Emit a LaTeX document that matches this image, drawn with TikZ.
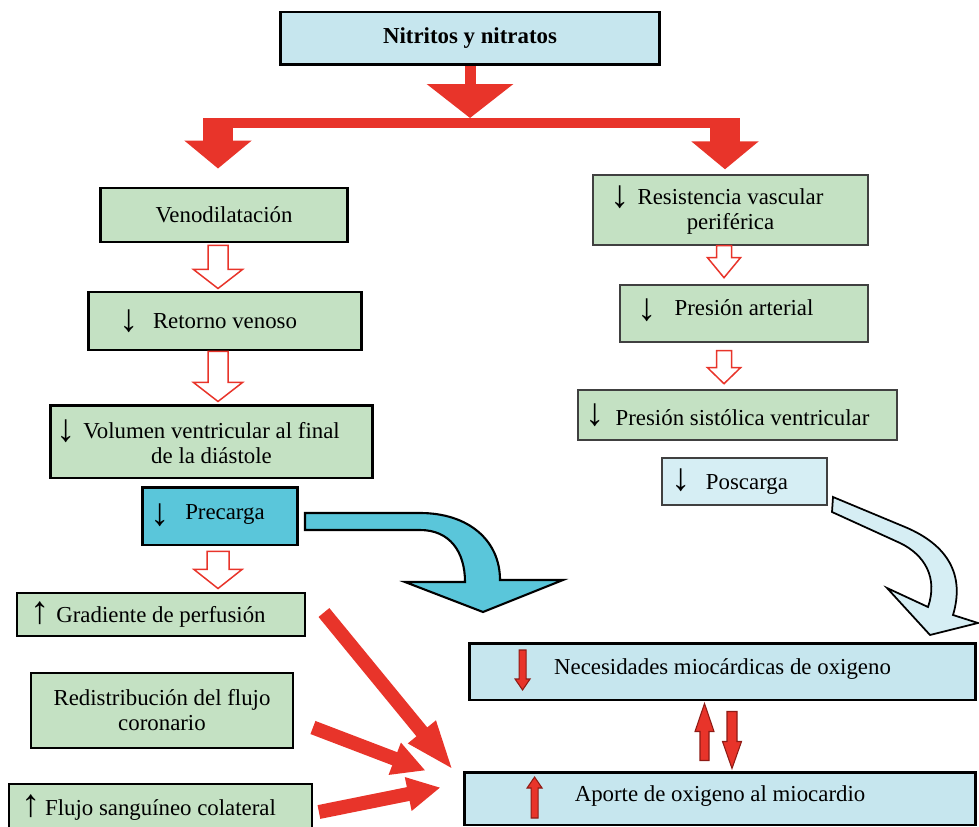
\documentclass[tikz,border=0pt]{standalone}
\usepackage{fontspec}
\setmainfont{Liberation Serif}
\usetikzlibrary{arrows.meta,calc}

\definecolor{boxblue}{HTML}{C6E6EE}
\definecolor{boxgreen}{HTML}{C4E1C3}
\definecolor{precblue}{HTML}{5AC6DA}
\definecolor{posblue}{HTML}{D6EEF4}
\definecolor{arrred}{HTML}{E8342A}
\definecolor{arrdark}{HTML}{8E1B15}

% arrow sign in front of a text: #1 distance to text, #2 raise
\newcommand\signdown[2]{\llap{\raisebox{#2}{\makebox[0pt]{\fontsize{22}{22}\selectfont ↓}}\hspace{#1}}}
\newcommand\signup[2]{\llap{\raisebox{#2}{\makebox[0pt]{\fontsize{22}{22}\selectfont ↑}}\hspace{#1}}}

\begin{document}
\begin{tikzpicture}[x=0.02cm,y=-0.02cm,
		every node/.style={font=\fontsize{13}{14.2}\selectfont},
		box/.style={rectangle,draw,inner sep=0pt,align=center},
		thickbox/.style={box,line width=1.7pt},
		midbox/.style={box,line width=1.1pt},
		thinbox/.style={box,line width=0.8pt,draw=black!75},
		palegreen/.style={fill=boxgreen},
		paleblue/.style={fill=boxblue},
		hollow/.style={draw=arrred,fill=white,line width=0.85pt},
		solidred/.style={draw=arrdark,fill=arrred,line width=0.6pt},
		bigred/.style={draw=arrred,line width=0.22cm,-{Triangle[width=1.7cm,length=0.68cm]}},
		branch/.style={draw=arrred,line width=0.6cm,-{Triangle[width=1.32cm,length=0.56cm]}},
		feed/.style={draw=arrred,line width=0.28cm,-{Triangle[width=0.64cm,length=#1]}},
		pics/blockarr/.style n args={4}{code={
			\path[pic actions] (-#1,0) -- (#1,0) -- (#1,#3) -- (#2,#3) -- (0,{#3+#4}) -- (-#2,#3) -- (-#1,#3) -- cycle;
		}}]
		\useasboundingbox (0,0) rectangle (979,827);
		\clip (0,0) rectangle (979,827);
		
		% top
		\node[thickbox,paleblue,minimum width=7.6cm,minimum height=1.06cm] (nitr) at (470,38.5) {\textbf{Nitritos y nitratos}};
		
		\coordinate (split) at (470,118);
		\coordinate (bl) at (218,123);
		\coordinate (br) at (725,123);
		
		% left column
		\node[thickbox,palegreen,minimum width=4.96cm,minimum height=1.08cm] (veno) at (224,215) {Venodilatación};
		\node[thickbox,palegreen,minimum width=5.48cm,minimum height=1.16cm] (retorno) at (225,321) {\signdown{0.48cm}{-0.05cm}Retorno venoso};
		\node[thickbox,palegreen,minimum width=6.46cm,minimum height=1.46cm] (volumen) at (211.5,441.5) {\signdown{0.34cm}{-0.06cm}Volumen ventricular al final\\de la diástole};
		\node[thickbox,fill=precblue,minimum width=3.12cm,minimum height=1.16cm,text depth=5pt] (precarga) at (220,516) {\hspace*{0.2cm}\signdown{0.5cm}{-0.12cm}Precarga};
		\node[midbox,palegreen,minimum width=5.76cm,minimum height=0.86cm] (gradiente) at (161,614.5) {\signup{0.32cm}{-0.02cm}Gradiente de perfusión};
		\node[midbox,palegreen,minimum width=5.24cm,minimum height=1.5cm] (redist) at (162,710.5) {Redistribución del flujo\\coronario};
		\node[midbox,palegreen,minimum width=6.06cm,minimum height=0.96cm] (flujo) at (160.5,808) {\signup{0.28cm}{-0.02cm}Flujo sanguíneo colateral};
		
		% right column
		\node[thinbox,palegreen,minimum width=5.5cm,minimum height=1.4cm] (resist) at (730.5,210) {\signdown{0.34cm}{-0.07cm}Resistencia vascular\\periférica};
		\node[thinbox,palegreen,minimum width=4.96cm,minimum height=1.14cm,text depth=7pt] (presart) at (744,313.5) {\signdown{0.54cm}{-0.1cm}Presión arterial};
		\node[thinbox,palegreen,minimum width=6.38cm,minimum height=1.0cm] (presist) at (737.5,415) {\hspace*{0.2cm}\signdown{0.4cm}{0cm}Presión sistólica ventricular};
		\node[thinbox,fill=posblue,minimum width=3.3cm,minimum height=0.94cm] (poscarga) at (744.5,481.5) {\hspace*{0.1cm}\signdown{0.5cm}{-0.02cm}Poscarga};
		
		% bottom
		\node[thickbox,paleblue,minimum width=10.14cm,minimum height=1.14cm,text depth=6pt] (necesid) at (722.5,671.5) {Necesidades miocárdicas de oxigeno};
		\node[thickbox,paleblue,minimum width=10.24cm,minimum height=1.06cm,text depth=6pt] (aporte) at (720,798.5) {Aporte de oxigeno al miocardio};
		
		% red arrows from the top box
		\draw[bigred] (nitr.south) -- (split);
		\draw[draw=arrred,line width=0.2cm] ($(bl)+(-15,0)$) -- ($(br)+(15,0)$);
		\draw[branch] (bl) -- ($(veno.north -| bl)+(0,-18)$);
		\draw[branch] (br) -- ($(resist.north -| br)+(0,-5)$);
		
		% hollow arrows
		\pic[hollow] at ($(veno.south)+(-6,2)$) {blockarr={10}{24.5}{24}{19}};
		\pic[hollow] at ($(retorno.south)+(-7,0)$) {blockarr={10}{24.5}{31}{19}};
		\pic[hollow] at ($(precarga.south)+(-2,5)$) {blockarr={11}{24}{18}{19}};
		\pic[hollow] at ($(resist.south)+(-6.5,0)$) {blockarr={7.5}{16.5}{12}{20}};
		\pic[hollow] at ($(presart.south)+(-20,8)$) {blockarr={7.5}{16.5}{17}{16}};
		
		% curved arrows
		\draw[line width=1.2pt,fill=precblue] (305,513) -- (420,513) .. controls (468,513) and (500,540) .. (500,580) -- (563,580) -- (483,612) -- (405,582) -- (465,582) .. controls (465,552) and (450,530) .. (420,530) -- (305,530) -- cycle;
		\draw[line width=1pt,fill=posblue] (833,497) -- (905,527) .. controls (948,545) and (965,575) .. (953,615) -- (978,623) -- (930,635) -- (887,588) -- (928,607) .. controls (938,578) and (925,555) .. (900,543) -- (832,512) -- cycle;
		
		% red arrows into aporte
		\draw[feed=1.0cm] ($(gradiente.east)+(18,-2)$) -- ($(aporte.north west)+(-9,0)$);
		\draw[feed=0.66cm] ($(redist.east)+(19,17)$) -- ($(aporte.north west)+(-37,0)$);
		\draw[feed=0.66cm] ($(flujo.east)+(6,4)$) -- ($(aporte.west)+(-22,-11)$);
		
		% small red arrows
		\pic[solidred] at ($(necesid.west)+(55,-21.5)$) {blockarr={3.5}{7.5}{29}{11}};
		\pic[solidred,rotate=180] at ($(aporte.west)+(72,19.5)$) {blockarr={3.5}{7.5}{30}{11}};
		\pic[solidred,rotate=180] at ($(aporte.north)+(-15.5,-10)$) {blockarr={4.5}{9.5}{29}{28}};
		\pic[solidred] at ($(necesid.south)+(9.5,10)$) {blockarr={5}{9.5}{30}{27}};
	\end{tikzpicture}
\end{document}
